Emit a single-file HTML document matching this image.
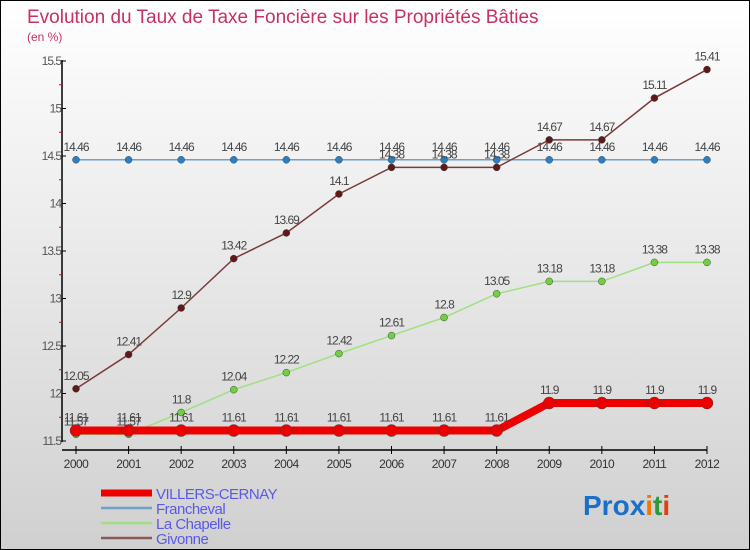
<!DOCTYPE html>
<html><head><meta charset="utf-8"><style>
body{margin:0;}
#wrap{position:relative;width:750px;height:550px;box-sizing:border-box;border:1px solid #000;background:linear-gradient(#ffffff,#d0d0d0);font-family:"Liberation Sans",sans-serif;overflow:hidden}
svg text{font-family:"Liberation Sans",sans-serif}
</style></head><body>
<div id="wrap">
<svg id="chart" width="750" height="550">
<text x="26" y="22" font-size="19" fill="#c8305f">Evolution du Taux de Taxe Foncière sur les Propriétés Bâties</text>
<text x="26" y="40" font-size="12" fill="#c8305f">(en %)</text>
<g id="axes"></g><g id="series"></g><g id="legend"></g>
<text x="582" y="514" font-size="28" font-weight="bold"><tspan fill="#1a70c8">Pro</tspan><tspan fill="#1a70c8">x</tspan><tspan fill="#f07800">i</tspan><tspan fill="#2a9a3a">t</tspan><tspan fill="#e04010">i</tspan></text>
</svg></div>
<script>
const years=[2000,2001,2002,2003,2004,2005,2006,2007,2008,2009,2010,2011,2012];
const villers=[11.61,11.61,11.61,11.61,11.61,11.61,11.61,11.61,11.61,11.9,11.9,11.9,11.9];
const francheval=[14.46,14.46,14.46,14.46,14.46,14.46,14.46,14.46,14.46,14.46,14.46,14.46,14.46];
const chapelle=[11.57,11.57,11.8,12.04,12.22,12.42,12.61,12.8,13.05,13.18,13.18,13.38,13.38];
const givonne=[12.05,12.41,12.9,13.42,13.69,14.1,14.38,14.38,14.38,14.67,14.67,15.11,15.41];
const yTicks=[11.5,12,12.5,13,13.5,14,14.5,15,15.5];
const seriesNames=["VILLERS-CERNAY","Francheval","La Chapelle","Givonne"];
const NS="http://www.w3.org/2000/svg";
const xS=y=>75+(y-2000)*(706-75)/12;
const yS=v=>440-(v-11.5)*95;
function mk(parent,tag,attrs){const e=document.createElementNS(NS,tag);for(const k in attrs)e.setAttribute(k,attrs[k]);parent.appendChild(e);return e;}
const ax=document.getElementById('axes');
let e=mk(ax,'line',{x1:61,y1:59,x2:61,y2:441,stroke:'#000','stroke-width':1.5});


e=mk(ax,'line',{x1:61,y1:449,x2:706,y2:449,stroke:'#000','stroke-width':1.5});


yTicks.forEach((v,i)=>{
 mk(ax,'line',{x1:61,y1:yS(v),x2:65,y2:yS(v),stroke:'#000'});
 const t=mk(ax,'text',{x:60,y:yS(v)+4,'font-size':12,fill:'#555','text-anchor':'end','letter-spacing':'-1'});
 t.textContent=String(v);
 
 
 if(i<yTicks.length-1)mk(ax,'line',{x1:58,y1:yS(v+0.25),x2:61,y2:yS(v+0.25),stroke:'#e00'});
});
years.forEach(y=>{
 mk(ax,'line',{x1:xS(y),y1:445,x2:xS(y),y2:453,stroke:'#000'});
 const t=mk(ax,'text',{x:xS(y),y:467,'font-size':12,fill:'#333','text-anchor':'middle','letter-spacing':'-0.5'});
 t.textContent=y;
 
 
});
const sg=document.getElementById('series');
function draw(vals,color,lw,r,dot,name){
 const g=mk(sg,'g',{});
 
 
 mk(g,'polyline',{points:vals.map((v,i)=>xS(years[i])+','+yS(v)).join(' '),fill:'none',stroke:color,'stroke-width':lw});
 vals.forEach((v,i)=>{
  const c=mk(g,'circle',{cx:xS(years[i]),cy:yS(v),r:r,fill:dot,stroke:'#444','stroke-width':0.5});
  
  
  const t=mk(g,'text',{x:xS(years[i]),y:yS(v)-9,'font-size':12,fill:'#444','text-anchor':'middle','letter-spacing':'-1'});
  t.textContent=String(v);
  
  
 });
}
draw(francheval,'#6fa0c8',1.5,3.5,'#2a80c8','francheval-series');
draw(givonne,'#7a3a3a',1.5,3.5,'#601818','givonne-series');
draw(chapelle,'#a0e080',1.5,3.5,'#70d040','la-chapelle-series');
draw(villers,'#ee0000',8,6,'#ee0000','villers-cernay-series');
const lg=document.getElementById('legend');
const lcol=['#ee0000','#6fa0c8','#a0e080','#8a5a5a'];
const lw=[7,2.5,2.5,2.5];
seriesNames.forEach((n,i)=>{
 const y=492+i*15;
 const g=mk(lg,'g',{});
 
 
 mk(g,'line',{x1:100,y1:y,x2:151,y2:y,stroke:lcol[i],'stroke-width':lw[i]});
 const t=mk(g,'text',{x:155,y:y+6,'font-size':15,fill:'#5a5ae8','letter-spacing':'-0.5'});
 t.textContent=n;
});
</script>
</body></html>
